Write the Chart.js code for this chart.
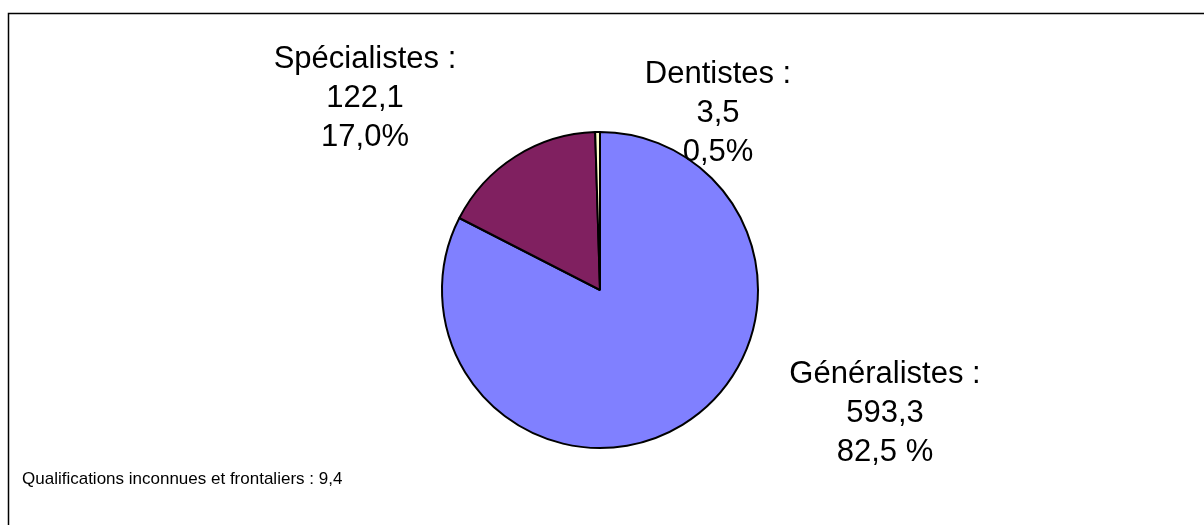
<!DOCTYPE html>
<html>
<head>
<meta charset="utf-8">
<script src="https://cdn.jsdelivr.net/npm/chart.js@4"></script>
<style>
  html, body { margin: 0; padding: 0; background: #fff; }
  #wrap { width: 1204px; height: 525px; position: relative; }
</style>
</head>
<body>
<div id="wrap"><canvas id="pie" width="1204" height="525"></canvas></div>
<script>
// Données
const categories = ['Généralistes', 'Spécialistes', 'Dentistes'];
const effectifs = [593.3, 122.1, 3.5];
const pourcentages = ['82,5 %', '17,0%', '0,5%'];
const couleurs = ['#8080FF', '#802060', '#FFFFCC'];
const noteBas = 'Qualifications inconnues et frontaliers : 9,4';

// Position des étiquettes par rapport au centre du camembert (px)
const ancres = [
    { dx: 285, dy: 93 },
    { dx: -235, dy: -222 },
    { dx: 118, dy: -207 }
];

const fmt = v => v.toFixed(1).replace('.', ',');

// Cadre + étiquettes façon Excel
const etiquettes = {
    id: 'etiquettes',
    beforeDraw(chart) {
        const ctx = chart.ctx;
        ctx.save();
        ctx.fillStyle = '#fff';
        ctx.fillRect(0, 0, chart.width, chart.height);
        ctx.strokeStyle = '#000';
        ctx.lineWidth = 1.5;
        ctx.strokeRect(8.5, 13.5, 1400, 700);
        ctx.restore();
    },
    afterDraw(chart) {
        const ctx = chart.ctx;
        const arcs = chart.getDatasetMeta(0).data;
        const cx = arcs[0].x, cy = arcs[0].y;
        ctx.save();
        ctx.fillStyle = '#000';
        ctx.font = '31px "Liberation Sans", Arial, sans-serif';
        ctx.textAlign = 'center';
        ctx.textBaseline = 'alphabetic';
        categories.forEach((c, i) => {
            const x = cx + ancres[i].dx, y = cy + ancres[i].dy;
            ctx.fillText(c + ' :', x, y);
            ctx.fillText(fmt(effectifs[i]), x, y + 39);
            ctx.fillText(pourcentages[i], x, y + 78);
        });
        ctx.textAlign = 'left';
        ctx.font = '17px "Liberation Sans", Arial, sans-serif';
        ctx.fillText(noteBas, 22, 484);
        ctx.restore();
    }
};

new Chart(document.getElementById('pie'), {
    type: 'pie',
    data: {
        labels: categories,
        datasets: [{
            data: effectifs,
            backgroundColor: couleurs,
            borderColor: '#000',
            borderWidth: 2
        }]
    },
    options: {
        responsive: false,
        animation: false,
        layout: { padding: { left: 441, right: 445, top: 131, bottom: 76 } },
        plugins: {
            legend: { display: false },
            tooltip: { enabled: false }
        }
    },
    plugins: [etiquettes]
});
</script>
</body>
</html>
